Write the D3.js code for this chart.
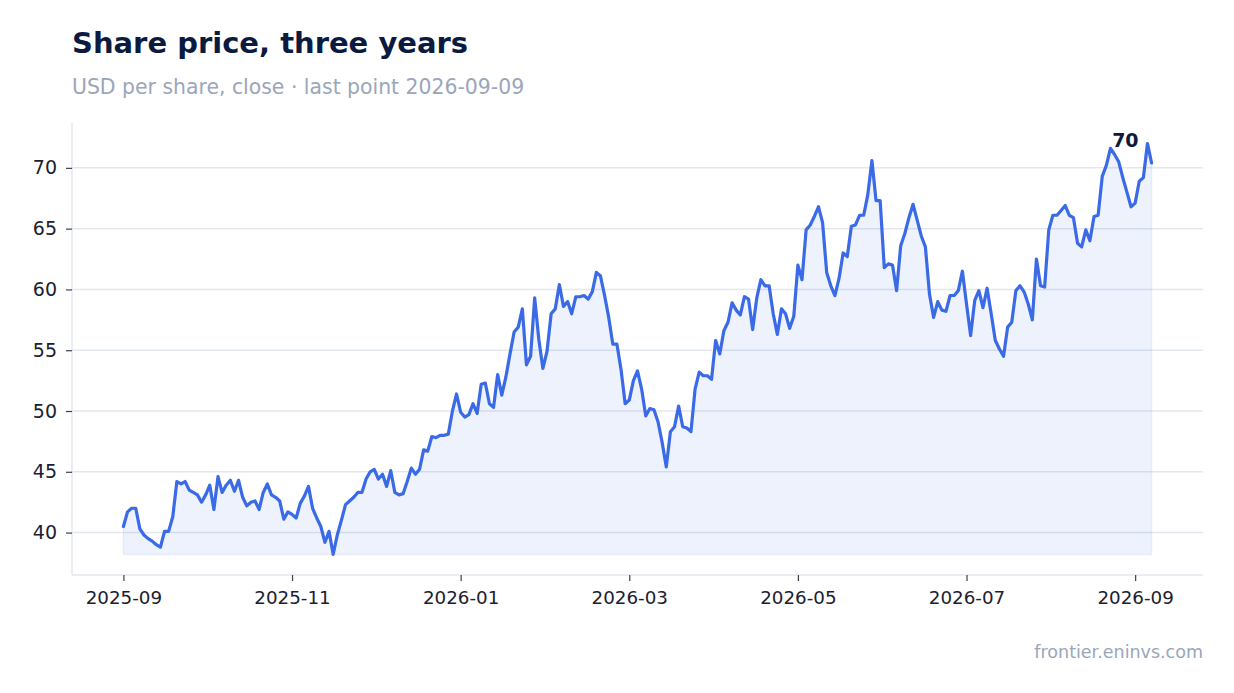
<!DOCTYPE html>
<html>
<head>
<meta charset="utf-8">
<script src="https://cdn.jsdelivr.net/npm/d3@7"></script>
<style>
  body { margin: 0; background: #fff; }
  svg { display: block; font-family: 'DejaVu Sans', sans-serif; }
</style>
</head>
<body>
<script>
// closing prices
const dates = [
  '2025-09-01','2025-09-02','2025-09-04','2025-09-06','2025-09-07','2025-09-08','2025-09-10','2025-09-12','2025-09-13','2025-09-14',
  '2025-09-16','2025-09-17','2025-09-19','2025-09-20','2025-09-22','2025-09-23','2025-09-25','2025-09-26','2025-09-28','2025-09-29',
  '2025-10-01','2025-10-02','2025-10-04','2025-10-05','2025-10-07','2025-10-08','2025-10-10','2025-10-11','2025-10-13','2025-10-14',
  '2025-10-16','2025-10-17','2025-10-19','2025-10-20','2025-10-22','2025-10-23','2025-10-25','2025-10-26','2025-10-28','2025-10-29',
  '2025-10-31','2025-11-01','2025-11-03','2025-11-04','2025-11-06','2025-11-07','2025-11-09','2025-11-10','2025-11-12','2025-11-13',
  '2025-11-15','2025-11-16','2025-11-18','2025-11-19','2025-11-21','2025-11-22','2025-11-24','2025-11-25','2025-11-27','2025-11-28',
  '2025-11-30','2025-12-01','2025-12-03','2025-12-04','2025-12-06','2025-12-07','2025-12-08','2025-12-10','2025-12-12','2025-12-13',
  '2025-12-14','2025-12-16','2025-12-17','2025-12-19','2025-12-20','2025-12-22','2025-12-24','2025-12-25','2025-12-27','2025-12-28',
  '2025-12-30','2025-12-31','2026-01-01','2026-01-03','2026-01-04','2026-01-06','2026-01-07','2026-01-09','2026-01-10','2026-01-12',
  '2026-01-13','2026-01-15','2026-01-16','2026-01-18','2026-01-19','2026-01-21','2026-01-22','2026-01-24','2026-01-25','2026-01-27',
  '2026-01-28','2026-01-30','2026-01-31','2026-02-02','2026-02-03','2026-02-05','2026-02-06','2026-02-08','2026-02-09','2026-02-11',
  '2026-02-12','2026-02-14','2026-02-15','2026-02-17','2026-02-18','2026-02-20','2026-02-21','2026-02-23','2026-02-24','2026-02-26',
  '2026-02-27','2026-03-01','2026-03-02','2026-03-04','2026-03-05','2026-03-07','2026-03-08','2026-03-10','2026-03-11','2026-03-13',
  '2026-03-14','2026-03-16','2026-03-17','2026-03-19','2026-03-20','2026-03-22','2026-03-23','2026-03-25','2026-03-26','2026-03-28',
  '2026-03-29','2026-03-31','2026-04-01','2026-04-03','2026-04-04','2026-04-06','2026-04-07','2026-04-09','2026-04-10','2026-04-12',
  '2026-04-13','2026-04-15','2026-04-16','2026-04-18','2026-04-19','2026-04-21','2026-04-22','2026-04-24','2026-04-25','2026-04-27',
  '2026-04-28','2026-04-30','2026-05-01','2026-05-03','2026-05-04','2026-05-06','2026-05-07','2026-05-09','2026-05-10','2026-05-12',
  '2026-05-13','2026-05-15','2026-05-16','2026-05-18','2026-05-19','2026-05-21','2026-05-22','2026-05-24','2026-05-25','2026-05-27',
  '2026-05-28','2026-05-30','2026-05-31','2026-06-02','2026-06-03','2026-06-05','2026-06-06','2026-06-08','2026-06-09','2026-06-11',
  '2026-06-12','2026-06-14','2026-06-15','2026-06-17','2026-06-18','2026-06-20','2026-06-21','2026-06-23','2026-06-24','2026-06-26',
  '2026-06-27','2026-06-29','2026-06-30','2026-07-02','2026-07-03','2026-07-05','2026-07-06','2026-07-08','2026-07-09','2026-07-11',
  '2026-07-12','2026-07-14','2026-07-15','2026-07-17','2026-07-18','2026-07-20','2026-07-21','2026-07-23','2026-07-24','2026-07-26',
  '2026-07-27','2026-07-29','2026-07-30','2026-08-01','2026-08-02','2026-08-04','2026-08-05','2026-08-07','2026-08-08','2026-08-10',
  '2026-08-11','2026-08-13','2026-08-14','2026-08-16','2026-08-17','2026-08-19','2026-08-20','2026-08-22','2026-08-23','2026-08-25',
  '2026-08-26','2026-08-28','2026-08-29','2026-08-31','2026-09-01','2026-09-03','2026-09-04','2026-09-06','2026-09-07','2026-09-08',
  '2026-09-09'
];

const closes = [
  40.5, 41.7, 42.0, 42.0, 40.3, 39.8, 39.5, 39.3, 39.0, 38.8,
  40.1, 40.1, 41.3, 44.2, 44.0, 44.2, 43.5, 43.3, 43.1, 42.5,
  43.1, 43.9, 41.9, 44.6, 43.3, 43.9, 44.3, 43.4, 44.3, 42.9,
  42.2, 42.5, 42.6, 41.9, 43.3, 44.0, 43.1, 42.9, 42.6, 41.1,
  41.7, 41.5, 41.2, 42.4, 43.0, 43.8, 42.0, 41.2, 40.5, 39.2,
  40.1, 38.2, 39.8, 41.0, 42.3, 42.6, 42.9, 43.3, 43.3, 44.4,
  45.0, 45.2, 44.4, 44.8, 43.8, 45.1, 43.3, 43.1, 43.2, 44.2,
  45.3, 44.8, 45.2, 46.8, 46.7, 47.9, 47.8, 48.0, 48.0, 48.1,
  50.0, 51.4, 49.9, 49.5, 49.7, 50.6, 49.8, 52.2, 52.3, 50.6,
  50.3, 53.0, 51.3, 52.8, 54.7, 56.5, 56.9, 58.4, 53.8, 54.5,
  59.3, 55.9, 53.5, 54.9, 58.0, 58.4, 60.4, 58.6, 59.0, 58.0,
  59.4, 59.4, 59.5, 59.2, 59.8, 61.4, 61.1, 59.5, 57.7, 55.5,
  55.5, 53.4, 50.6, 50.9, 52.5, 53.3, 51.8, 49.6, 50.2, 50.1,
  49.1, 47.4, 45.4, 48.3, 48.7, 50.4, 48.7, 48.6, 48.3, 51.8,
  53.2, 52.9, 52.9, 52.6, 55.8, 54.7, 56.6, 57.3, 58.9, 58.3,
  57.9, 59.4, 59.2, 56.7, 59.3, 60.8, 60.3, 60.3, 58.0, 56.3,
  58.4, 58.0, 56.8, 57.8, 62.0, 60.8, 64.9, 65.3, 66.0, 66.8,
  65.5, 61.4, 60.3, 59.5, 60.9, 63.0, 62.7, 65.2, 65.3, 66.1,
  66.1, 67.8, 70.6, 67.3, 67.3, 61.8, 62.1, 62.0, 59.9, 63.6,
  64.6, 65.9, 67.0, 65.7, 64.4, 63.5, 59.6, 57.7, 59.0, 58.3,
  58.2, 59.5, 59.5, 59.9, 61.5, 58.8, 56.2, 59.1, 59.9, 58.5,
  60.1, 58.0, 55.8, 55.1, 54.5, 56.9, 57.3, 59.9, 60.3, 59.8,
  58.8, 57.5, 62.5, 60.3, 60.2, 64.9, 66.1, 66.1, 66.5, 66.9,
  66.1, 65.9, 63.8, 63.5, 64.9, 64.0, 66.0, 66.1, 69.3, 70.2,
  71.6, 71.1, 70.5, 69.2, 68.0, 66.8, 67.1, 68.9, 69.2, 72.0,
  70.4
];

const yTicks = [40, 45, 50, 55, 60, 65, 70];
// x labels sit every 41st observation
const xTickEvery = 41;

const title = 'Share price, three years';
const subtitle = 'USD per share, close \u00b7 last point 2026-09-09';
const source = 'frontier.eninvs.com';

const W = 1234, H = 693;
const plot = {left: 72, right: 1203, top: 123, bottom: 575};

const fmtMonth = d3.timeFormat('%Y-%m');
const parse = d3.timeParse('%Y-%m-%d');
const series = dates.map((d, i) => ({i: i, date: parse(d), value: closes[i]}));
const n = series.length;

const svg = d3.select('body').append('svg')
  .attr('width', W)
  .attr('height', H);

// observations are evenly spaced along x; 5% padding on both axes
const xPad = (n - 1) * 0.05;
const x = d3.scaleLinear()
  .domain([-xPad, n - 1 + xPad])
  .range([plot.left, plot.right]);

const [vMin, vMax] = d3.extent(closes);
const vPad = (vMax - vMin) * 0.05;
const y = d3.scaleLinear()
  .domain([vMin - vPad, vMax + vPad])
  .range([plot.bottom, plot.top]);

// gridlines
svg.append('g')
  .selectAll('line')
  .data(yTicks)
  .enter().append('line')
  .attr('x1', plot.left)
  .attr('x2', plot.right)
  .attr('y1', d => y(d))
  .attr('y2', d => y(d))
  .attr('stroke', '#e3e7ef')
  .attr('stroke-width', 1.5);

// area under line, down to the lowest close
const area = d3.area()
  .x(d => x(d.i))
  .y0(y(vMin))
  .y1(d => y(d.value));

svg.append('path')
  .datum(series)
  .attr('d', area)
  .attr('fill', 'rgba(58,107,230,0.09)')
  .attr('stroke', 'rgba(58,107,230,0.08)')
  .attr('stroke-width', 1.5);

const line = d3.line()
  .x(d => x(d.i))
  .y(d => y(d.value));

svg.append('path')
  .datum(series)
  .attr('d', line)
  .attr('fill', 'none')
  .attr('stroke', '#3a6ae6')
  .attr('stroke-width', 3.2)
  .attr('stroke-linejoin', 'round')
  .attr('stroke-linecap', 'round');

// Y axis
const yAxis = svg.append('g')
  .attr('transform', `translate(${plot.left},0)`)
  .call(d3.axisLeft(y).tickValues(yTicks).tickSize(6).tickPadding(9));
yAxis.select('.domain').attr('stroke', '#e3e7ef').attr('stroke-width', 1.5)
  .attr('d', `M0,${plot.top}V${plot.bottom}`);
yAxis.selectAll('.tick line').attr('stroke', '#3c4150').attr('stroke-width', 1.2);
yAxis.selectAll('.tick text')
  .attr('fill', '#1b2030')
  .style('font-size', '19px')
  .style('font-family', "'DejaVu Sans', sans-serif");

// X axis
const xTicks = d3.range(0, n, xTickEvery);
const xAxis = svg.append('g')
  .attr('transform', `translate(0,${plot.bottom})`)
  .call(d3.axisBottom(x).tickValues(xTicks).tickFormat(i => fmtMonth(series[i].date)).tickSize(6).tickPadding(10));
xAxis.select('.domain').attr('stroke', '#e3e7ef').attr('stroke-width', 1.5)
  .attr('d', `M${plot.left},0H${plot.right}`);
xAxis.selectAll('.tick line').attr('stroke', '#3c4150').attr('stroke-width', 1.2);
xAxis.selectAll('.tick text')
  .attr('fill', '#1b2030')
  .style('font-size', '18.3px')
  .style('font-family', "'DejaVu Sans', sans-serif");

// last value label
const last = series[n - 1];
svg.append('text')
  .attr('x', x(last.i) - 13)
  .attr('y', y(last.value) - 16)
  .attr('text-anchor', 'end')
  .attr('fill', '#0d1a3c')
  .style('font-size', '19px')
  .style('font-weight', 'bold')
  .text(d3.format('.0f')(last.value));

// titles
svg.append('text')
  .attr('x', plot.left)
  .attr('y', 53)
  .attr('fill', '#0b1a40')
  .style('font-size', '29px')
  .style('font-weight', 'bold')
  .text(title);

svg.append('text')
  .attr('x', plot.left)
  .attr('y', 94)
  .attr('fill', '#9aa6ba')
  .style('font-size', '20.4px')
  .text(subtitle);

svg.append('text')
  .attr('x', plot.right)
  .attr('y', 658)
  .attr('text-anchor', 'end')
  .attr('fill', '#9aa6ba')
  .style('font-size', '17.5px')
  .text(source);
</script>
</body>
</html>
